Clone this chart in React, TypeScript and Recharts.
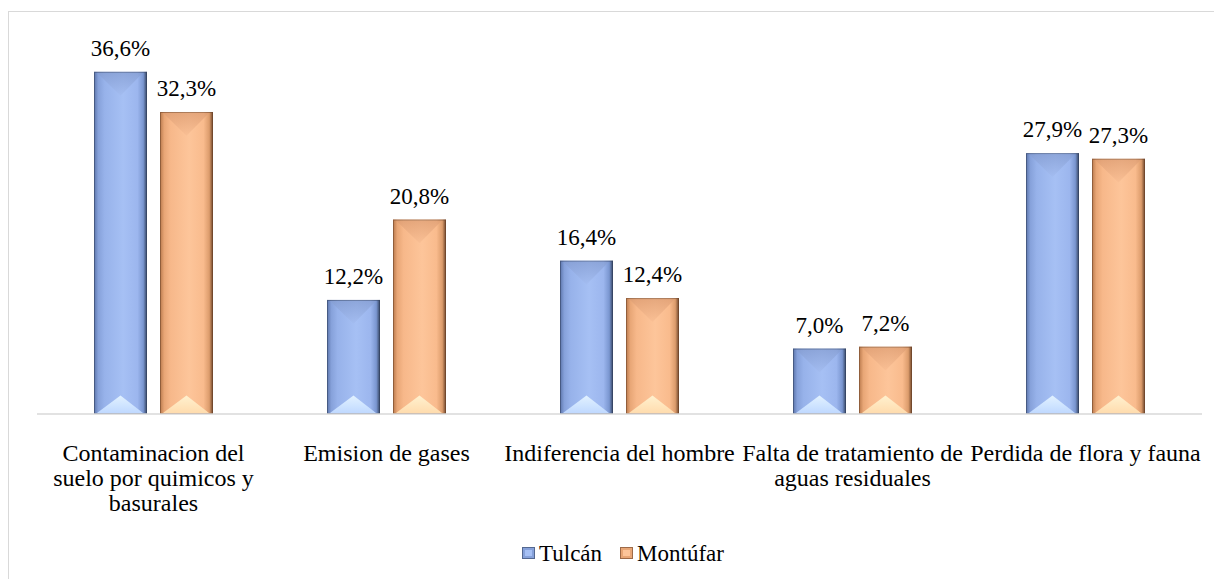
import React from 'react';
import { BarChart, Bar, XAxis, YAxis, LabelList, Legend } from 'recharts';

const categories = [
  'Contaminacion del suelo por quimicos y basurales',
  'Emision de gases',
  'Indiferencia del hombre',
  'Falta de tratamiento de aguas residuales',
  'Perdida de flora y fauna',
];
const tulcan = [36.6, 12.2, 16.4, 7.0, 27.9];
const montufar = [32.3, 20.8, 12.4, 7.2, 27.3];
const seriesNames = ['Tulcán', 'Montúfar'];

const data = categories.map((name, i) => ({ name, tulcan: tulcan[i], montufar: montufar[i] }));

const FONT = 'Liberation Serif, Tinos, DejaVu Serif, serif';

const palettes: Record<string, any> = {
  blue: {
    stops: ['#5b74aa', '#86a1da', '#97b2ea', '#a6c0f4', '#9cb6ee', '#7a96d0', '#33425f'],
    top: ['#849cd0', '#a2bbef'],
    bottom: ['#c0d9ff', '#e2f2ff'],
  },
  orange: {
    stops: ['#b9794c', '#e8a676', '#f7b88a', '#fdc59a', '#f9bb8d', '#dc9c6c', '#6b4329'],
    top: ['#dc9c72', '#f8bd92'],
    bottom: ['#ffdcae', '#fff1cf'],
  },
};

// bar with a bevelled look, like the Office 3D bar
const BevelBar = (props: any) => {
  const { x, y, width, height, tone } = props;
  if (!height || height <= 0) return null;
  const p = palettes[tone];
  const id = `g-${tone}`;
  const b = Math.min(width * 0.45, height / 2);
  const bb = Math.min(width * 0.35, height / 2);
  return (
    <g>
      <defs>
        <linearGradient id={id} x1="0" y1="0" x2="1" y2="0">
          {p.stops.map((c: string, i: number) => (
            <stop key={i} offset={[0, 0.08, 0.2, 0.55, 0.82, 0.93, 1][i]} stopColor={c} />
          ))}
        </linearGradient>
        <linearGradient id={id + '-t'} x1="0" y1="0" x2="0" y2="1">
          <stop offset="0" stopColor={p.top[0]} />
          <stop offset="1" stopColor={p.top[1]} />
        </linearGradient>
        <linearGradient id={id + '-b'} x1="0" y1="1" x2="0" y2="0">
          <stop offset="0" stopColor={p.bottom[0]} />
          <stop offset="1" stopColor={p.bottom[1]} />
        </linearGradient>
      </defs>
      <rect x={x} y={y} width={width} height={height} fill={`url(#${id})`} />
      <polygon
        points={`${x + 3},${y + 1} ${x + width - 4},${y + 1} ${x + width / 2},${y + b}`}
        fill={`url(#${id}-t)`}
        opacity={0.7}
      />
      <polygon
        points={`${x + 3},${y + height - 1} ${x + width - 4},${y + height - 1} ${x + width / 2},${y + height - bb}`}
        fill={`url(#${id}-b)`}
      />
      <rect x={x + 0.5} y={y + 0.5} width={width - 1} height={height - 1} fill="none" stroke={p.stops[6]} strokeOpacity={0.55} />
    </g>
  );
};

let ctx: CanvasRenderingContext2D | null = null;
const measure = (s: string, font: string) => {
  if (!ctx) ctx = document.createElement('canvas').getContext('2d');
  if (!ctx) return s.length * 10;
  ctx.font = font;
  return ctx.measureText(s).width;
};

const wrap = (text: string, maxW: number, font: string) => {
  const words = text.split(' ');
  const lines: string[] = [];
  let cur = '';
  words.forEach((w) => {
    const t = cur ? cur + ' ' + w : w;
    if (measure(t, font) > maxW && cur) {
      lines.push(cur);
      cur = w;
    } else cur = t;
  });
  if (cur) lines.push(cur);
  return lines;
};

const CategoryTick = (props: any) => {
  const { x, y, payload } = props;
  const lines = wrap(payload.value, 234, `24px ${FONT}`);
  return (
    <g>
      {lines.map((l, i) => (
        <text key={i} x={x} y={y + 39 + i * 25} textAnchor="middle" fontSize={24} fontFamily={FONT} fill="#000">
          {l}
        </text>
      ))}
    </g>
  );
};

const LegendIcon = ({ tone }: { tone: string }) => {
  const p = palettes[tone];
  return (
    <svg width={13} height={12} style={{ marginRight: 4, marginBottom: 2 }}>
      <rect x={0} y={0} width={13} height={12} fill={p.stops[1]} />
      <rect x={3} y={3} width={7} height={6} fill={p.stops[3]} />
      <rect x={0.5} y={0.5} width={12} height={11} fill="none" stroke={p.stops[6]} strokeOpacity={0.6} />
    </svg>
  );
};

const LegendContent = () => (
  <div style={{ display: 'flex', justifyContent: 'center', alignItems: 'center', paddingLeft: 16, fontFamily: FONT, fontSize: 23, color: '#000' }}>
    <span style={{ display: 'flex', alignItems: 'center', marginRight: 18 }}>
      <LegendIcon tone="blue" />
      {seriesNames[0]}
    </span>
    <span style={{ display: 'flex', alignItems: 'center' }}>
      <LegendIcon tone="orange" />
      {seriesNames[1]}
    </span>
  </div>
);

const fmt = (v: any) => `${Number(v).toFixed(1).replace('.', ',')}%`;

export default function App() {
  return (
    <div style={{ position: 'relative', width: 1214, height: 571, overflow: 'hidden', background: '#fff', fontFamily: FONT }}>
      <div style={{ position: 'absolute', left: 0, top: 3, width: 1240, height: 600, border: '1px solid #d9d9d9', boxSizing: 'border-box' }} />
      <BarChart
        width={1214}
        height={571}
        data={data}
        margin={{ top: 32, right: 20, left: 29, bottom: 10 }}
        barSize={53}
        barGap={13}
        style={{ position: 'absolute', left: 0, top: 0 }}
      >
        <XAxis
          dataKey="name"
          axisLine={{ stroke: '#d9d9d9', strokeWidth: 1.5 }}
          tickLine={false}
          height={155}
          interval={0}
          tick={<CategoryTick />}
        />
        <YAxis hide domain={[0, 40]} />
        <Legend
          verticalAlign="middle"
          align="center"
          content={<LegendContent />}
          wrapperStyle={{ top: 533, left: 0, width: 1214 }}
        />
        <Bar dataKey="tulcan" name={seriesNames[0]} shape={<BevelBar tone="blue" />} isAnimationActive={false}>
          <LabelList dataKey="tulcan" position="top" offset={16} formatter={fmt} fontSize={23} fontFamily={FONT} fill="#000" />
        </Bar>
        <Bar dataKey="montufar" name={seriesNames[1]} shape={<BevelBar tone="orange" />} isAnimationActive={false}>
          <LabelList dataKey="montufar" position="top" offset={16} formatter={fmt} fontSize={23} fontFamily={FONT} fill="#000" />
        </Bar>
      </BarChart>
    </div>
  );
}
